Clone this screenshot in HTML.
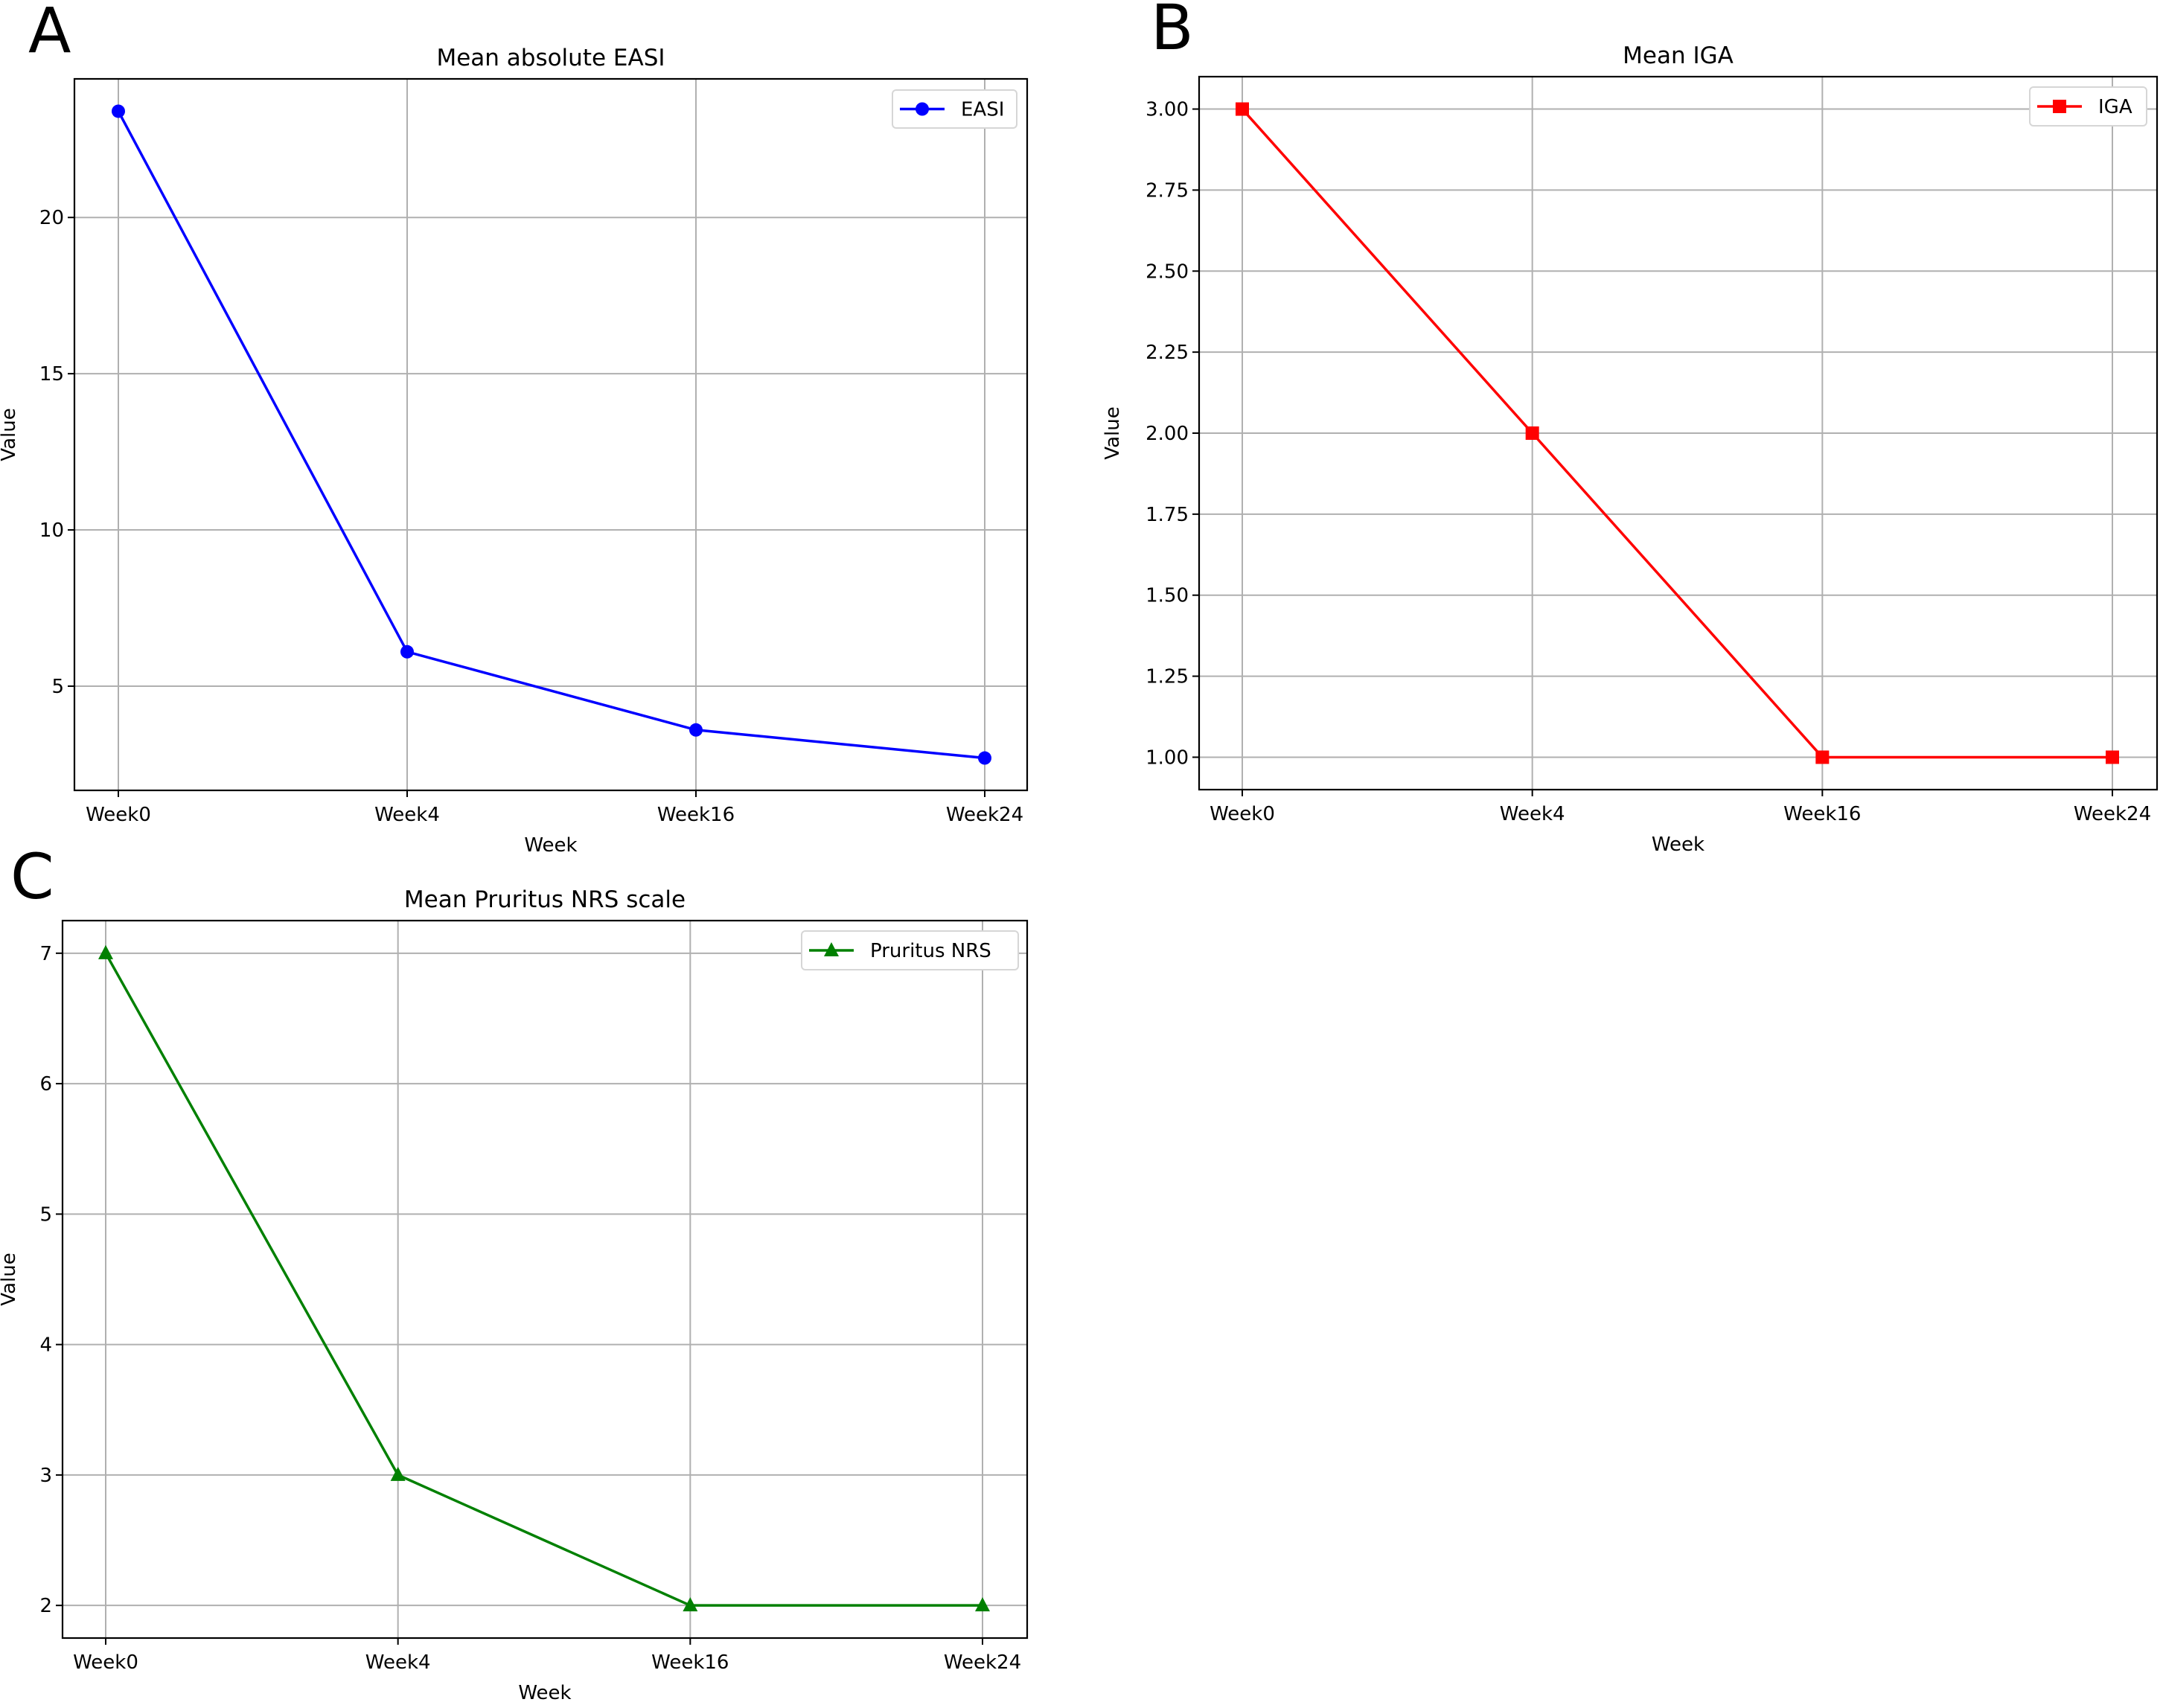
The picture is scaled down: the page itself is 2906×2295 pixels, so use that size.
<!DOCTYPE html>
<html><head><meta charset="utf-8"><style>
body{margin:0;background:#fff}
svg{display:block;font-family:"DejaVu Sans","Liberation Sans",sans-serif}
</style></head><body>
<svg id="fig" width="2906" height="2295" viewBox="0 0 2906 2295" xmlns="http://www.w3.org/2000/svg"></svg>
<script>
const categories = ["Week0","Week4","Week16","Week24"];
const easiValues = [23.4, 6.1, 3.6, 2.7];
const igaValues = [3.0, 2.0, 1.0, 1.0];
const nrsValues = [7, 3, 2, 2];
const easiTicks = [5, 10, 15, 20];
const igaTicks = [1.00, 1.25, 1.50, 1.75, 2.00, 2.25, 2.50, 2.75, 3.00];
const nrsTicks = [2, 3, 4, 5, 6, 7];

const NS = "http://www.w3.org/2000/svg";
const svg = document.getElementById("fig");
function mk(tag, attrs, parent, text){
  const e = document.createElementNS(NS, tag);
  for (const k in attrs) e.setAttribute(k, attrs[k]);
  if (text !== undefined) e.textContent = text;
  (parent || svg).appendChild(e);
  return e;
}

function panel(cfg){
  const g = mk("g", {});
  
  
  const {L,R,T,B,yMin,yMax,xT0,xT1} = cfg;
  const xs = i => xT0 + (xT1 - xT0) * i / (categories.length - 1);
  const ys = v => B - (v - yMin) / (yMax - yMin) * (B - T);
  categories.forEach((c,i)=>{
    const l = mk("line",{x1:xs(i),x2:xs(i),y1:T,y2:B,stroke:"#b0b0b0","stroke-width":2},g);
    
    
  });
  cfg.ticks.forEach(v=>{
    const l = mk("line",{x1:L,x2:R,y1:ys(v),y2:ys(v),stroke:"#b0b0b0","stroke-width":2},g);
    
    
  });
  const fr = mk("rect",{x:L,y:T,width:R-L,height:B-T,fill:"none",stroke:"#000","stroke-width":2.2},g);
  
  
  categories.forEach((c,i)=>{
    mk("line",{x1:xs(i),x2:xs(i),y1:B,y2:B+9,stroke:"#000","stroke-width":2},g);
    const t = mk("text",{x:xs(i),y:B+41,"font-size":26,"text-anchor":"middle",fill:"#000"},g,c);
    
    
  });
  cfg.ticks.forEach(v=>{
    mk("line",{x1:L-9,x2:L,y1:ys(v),y2:ys(v),stroke:"#000","stroke-width":2},g);
    const t = mk("text",{x:L-14,y:ys(v)+9,"font-size":26,"text-anchor":"end",fill:"#000"},g,cfg.fmt(v));
    
    
  });
  const tt = mk("text",{x:(L+R)/2,y:T-18,"font-size":31,"text-anchor":"middle",fill:"#000"},g,cfg.title);
  
  
  const xl = mk("text",{x:(L+R)/2,y:B+82,"font-size":26,"text-anchor":"middle",fill:"#000"},g,"Week");
  
  
  const yc = (T+B)/2;
  const yl = mk("text",{x:cfg.ylabX,y:yc,"font-size":26,"text-anchor":"middle",fill:"#000",transform:`rotate(-90 ${cfg.ylabX} ${yc})`},g,"Value");
  
  
  const pl = mk("text",{x:cfg.letterX,y:cfg.letterY,"font-size":84,"text-anchor":"start",fill:"#000"},g,cfg.letter);
  
  
  const pts = cfg.values.map((v,i)=>xs(i)+","+ys(v)).join(" ");
  const line = mk("polyline",{points:pts,fill:"none",stroke:cfg.color,"stroke-width":3.5},g);
  
  
  function marker(x,y,parent){
    let m;
    if (cfg.marker==="circle") m = mk("circle",{cx:x,cy:y,r:9,fill:cfg.color},parent);
    else if (cfg.marker==="square") m = mk("rect",{x:x-9,y:y-9,width:18,height:18,fill:cfg.color},parent);
    else m = mk("polygon",{points:`${x},${y-11} ${x-10},${y+8} ${x+10},${y+8}`,fill:cfg.color},parent);
    return m;
  }
  cfg.values.forEach((v,i)=>{
    const m = marker(xs(i), ys(v), g);
    
    
  });
  const lg = mk("g",{},g);
  
  
  const [lx,ly,lw,lh] = cfg.legend;
  mk("rect",{x:lx,y:ly,width:lw,height:lh,rx:5,fill:"#fff",stroke:"#d6d6d6","stroke-width":2},lg);
  const cy = ly + lh/2;
  mk("line",{x1:lx+10,x2:lx+70,y1:cy,y2:cy,stroke:cfg.color,"stroke-width":3.5},lg);
  marker(lx+40, cy, lg);
  const lt = mk("text",{x:lx+92,y:cy+9,"font-size":26,fill:"#000"},lg,cfg.series);
  
  
}

panel({id:"easi",title:"Mean absolute EASI",series:"EASI",letter:"A",color:"#0000ff",marker:"circle",
  L:100,R:1380,T:106,B:1062,xT0:159,xT1:1323,yMin:1.665,yMax:24.435,ticks:easiTicks,values:easiValues,
  fmt:v=>String(v),ylabX:20,letterX:38,letterY:70,legend:[1199,121,167,51]});
panel({id:"iga",title:"Mean IGA",series:"IGA",letter:"B",color:"#ff0000",marker:"square",
  L:1611,R:2898,T:103,B:1061,xT0:1669,xT1:2838,yMin:0.9,yMax:3.1,ticks:igaTicks,values:igaValues,
  fmt:v=>v.toFixed(2),ylabX:1503,letterX:1546,letterY:66,legend:[2727,117,157,52]});
panel({id:"nrs",title:"Mean Pruritus NRS scale",series:"Pruritus NRS",letter:"C",color:"#008000",marker:"triangle",
  L:84,R:1380,T:1237,B:2201,xT0:142,xT1:1320,yMin:1.75,yMax:7.25,ticks:nrsTicks,values:nrsValues,
  fmt:v=>String(v),ylabX:20,letterX:14,letterY:1207,legend:[1077,1251,291,52]});
</script>
</body></html>
